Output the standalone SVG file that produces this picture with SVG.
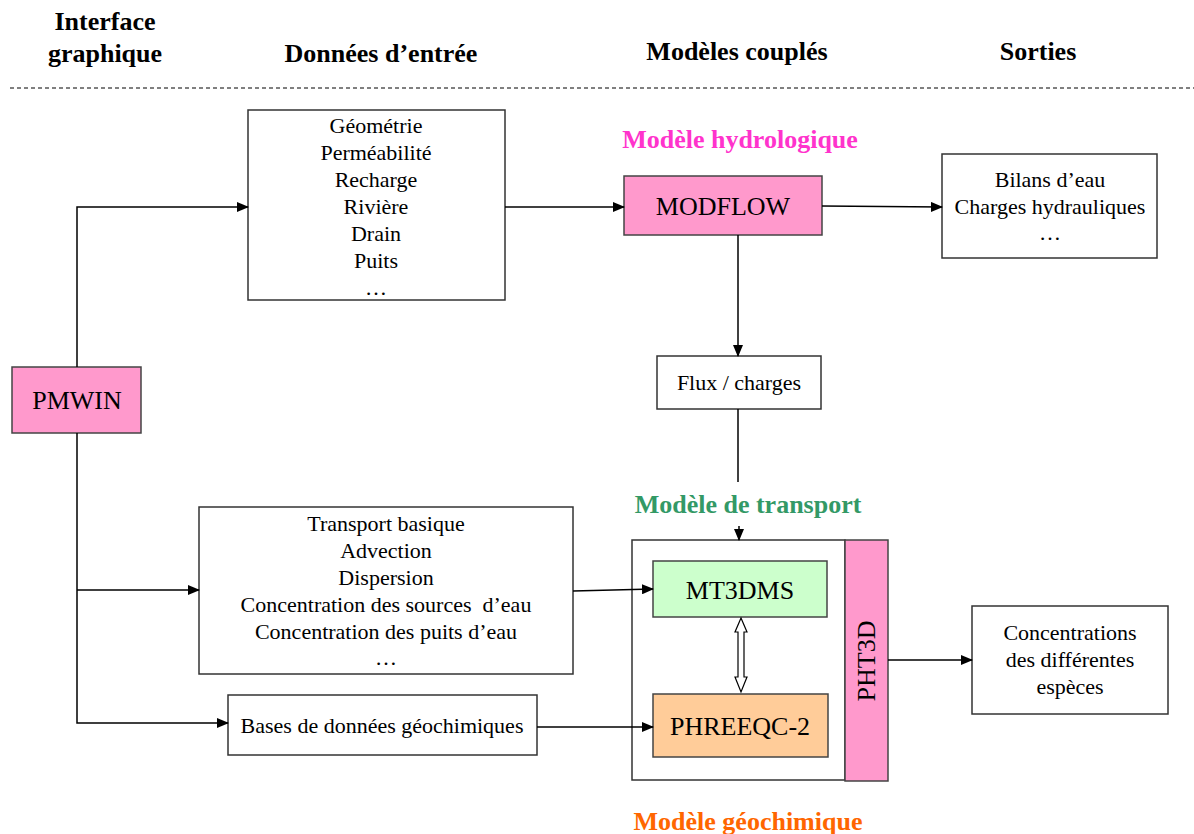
<svg xmlns="http://www.w3.org/2000/svg" width="1194" height="834" viewBox="0 0 1194 834">
<style>
.hdr{font-family:"Liberation Serif",serif;font-weight:bold;font-size:26px;fill:#000;text-anchor:middle}
.lbl{font-family:"Liberation Serif",serif;font-weight:bold;font-size:26px;text-anchor:middle}
.t{font-family:"Liberation Serif",serif;font-size:22px;fill:#000;text-anchor:middle}
.big{font-family:"Liberation Serif",serif;font-size:26px;fill:#000;text-anchor:middle}
.box{fill:#fff;stroke:#333;stroke-width:1.5}
.conn{fill:none;stroke:#000;stroke-width:1.5}
</style>
<defs>
<marker id="ah" markerWidth="12" markerHeight="10" refX="11" refY="5" orient="auto" markerUnits="userSpaceOnUse">
<path d="M0,0 L12,5 L0,10 Z" fill="#000"/>
</marker>
</defs>
<rect width="1194" height="834" fill="#fff"/>
<g id="headers">
<text class="hdr" x="105" y="30">Interface</text>
<text class="hdr" x="105" y="62">graphique</text>
<text class="hdr" x="381" y="62">Données d’entrée</text>
<text class="hdr" x="737" y="60">Modèles couplés</text>
<text class="hdr" x="1038" y="60">Sorties</text>
<line x1="10" y1="88" x2="1194" y2="88" stroke="#000" stroke-width="1" stroke-dasharray="4,3"/>
</g>
<g id="pmwin">
<rect x="12" y="367" width="129" height="66" fill="#ff99cc" stroke="#444" stroke-width="1.5"/>
<text class="big" x="77" y="409">PMWIN</text>
</g>
<g id="input-hydro">
<rect class="box" x="248" y="110" width="257" height="190"/>
<text class="t" x="376" y="133">Géométrie</text>
<text class="t" x="376" y="160">Perméabilité</text>
<text class="t" x="376" y="187">Recharge</text>
<text class="t" x="376" y="214">Rivière</text>
<text class="t" x="376" y="241">Drain</text>
<text class="t" x="376" y="268">Puits</text>
<text class="t" x="376" y="295">…</text>
</g>
<g id="modflow">
<text class="lbl" x="740" y="148" fill="#ff33cc">Modèle hydrologique</text>
<rect x="624" y="176" width="198" height="59" fill="#ff99cc" stroke="#444" stroke-width="1.5"/>
<text class="big" x="723" y="215">MODFLOW</text>
</g>
<g id="sorties-hydro">
<rect class="box" x="942" y="154" width="215" height="104"/>
<text class="t" x="1050" y="187">Bilans d’eau</text>
<text class="t" x="1050" y="214">Charges hydrauliques</text>
<text class="t" x="1050" y="240">…</text>
</g>
<g id="flux">
<rect class="box" x="657" y="356" width="164" height="53"/>
<text class="t" x="739" y="390">Flux / charges</text>
</g>
<g id="input-transport">
<rect class="box" x="199" y="507" width="374" height="167"/>
<text class="t" x="386" y="531">Transport basique</text>
<text class="t" x="386" y="558">Advection</text>
<text class="t" x="386" y="585">Dispersion</text>
<text class="t" x="386" y="612" xml:space="preserve">Concentration des sources  d’eau</text>
<text class="t" x="386" y="639">Concentration des puits d’eau</text>
<text class="t" x="386" y="665">…</text>
</g>
<g id="input-geochem">
<rect class="box" x="228" y="695" width="309" height="60"/>
<text class="t" x="382" y="733">Bases de données géochimiques</text>
</g>
<g id="pht3d">
<text class="lbl" x="748" y="513" fill="#339966">Modèle de transport</text>
<rect class="box" x="632" y="540" width="213" height="240"/>
<rect x="845" y="540" width="43" height="241" fill="#ff99cc" stroke="#444" stroke-width="1.5"/>
<text class="big" x="0" y="0" transform="translate(875,661) rotate(-90)">PHT3D</text>
<text class="lbl" x="748" y="830" fill="#ff6600">Modèle géochimique</text>
</g>
<g id="mt3dms">
<rect x="653" y="561" width="174" height="56" fill="#ccffcc" stroke="#444" stroke-width="1.5"/>
<text class="big" x="740" y="599">MT3DMS</text>
</g>
<g id="phreeqc">
<rect x="653" y="694" width="175" height="63" fill="#ffcc99" stroke="#444" stroke-width="1.5"/>
<text class="big" x="740" y="735">PHREEQC-2</text>
</g>
<g id="sorties-chem">
<rect class="box" x="972" y="606" width="196" height="108"/>
<text class="t" x="1070" y="640">Concentrations</text>
<text class="t" x="1070" y="667">des différentes</text>
<text class="t" x="1070" y="694">espèces</text>
</g>
<g id="connectors">
<polyline class="conn" points="77,367 77,207 248,207" marker-end="url(#ah)"/>
<polyline class="conn" points="77,433 77,723 228,723" marker-end="url(#ah)"/>
<line class="conn" x1="77" y1="590" x2="199" y2="590" marker-end="url(#ah)"/>
<line class="conn" x1="505" y1="207" x2="624" y2="207" marker-end="url(#ah)"/>
<line class="conn" x1="822" y1="206" x2="942" y2="207" marker-end="url(#ah)"/>
<line class="conn" x1="738" y1="235" x2="738" y2="356" marker-end="url(#ah)"/>
<line class="conn" x1="738" y1="409" x2="738" y2="482"/>
<line class="conn" x1="739" y1="526" x2="739" y2="540" marker-end="url(#ah)"/>
<line class="conn" x1="573" y1="591" x2="653" y2="589" marker-end="url(#ah)"/>
<line class="conn" x1="537" y1="727" x2="653" y2="727" marker-end="url(#ah)"/>
<line class="conn" x1="888" y1="660" x2="972" y2="660" marker-end="url(#ah)"/>
<polygon points="741,618 747,632 744,632 744,677 747,677 741,692 735,677 738,677 738,632 735,632" fill="#fff" stroke="#000" stroke-width="1.2"/>
</g>
</svg>
